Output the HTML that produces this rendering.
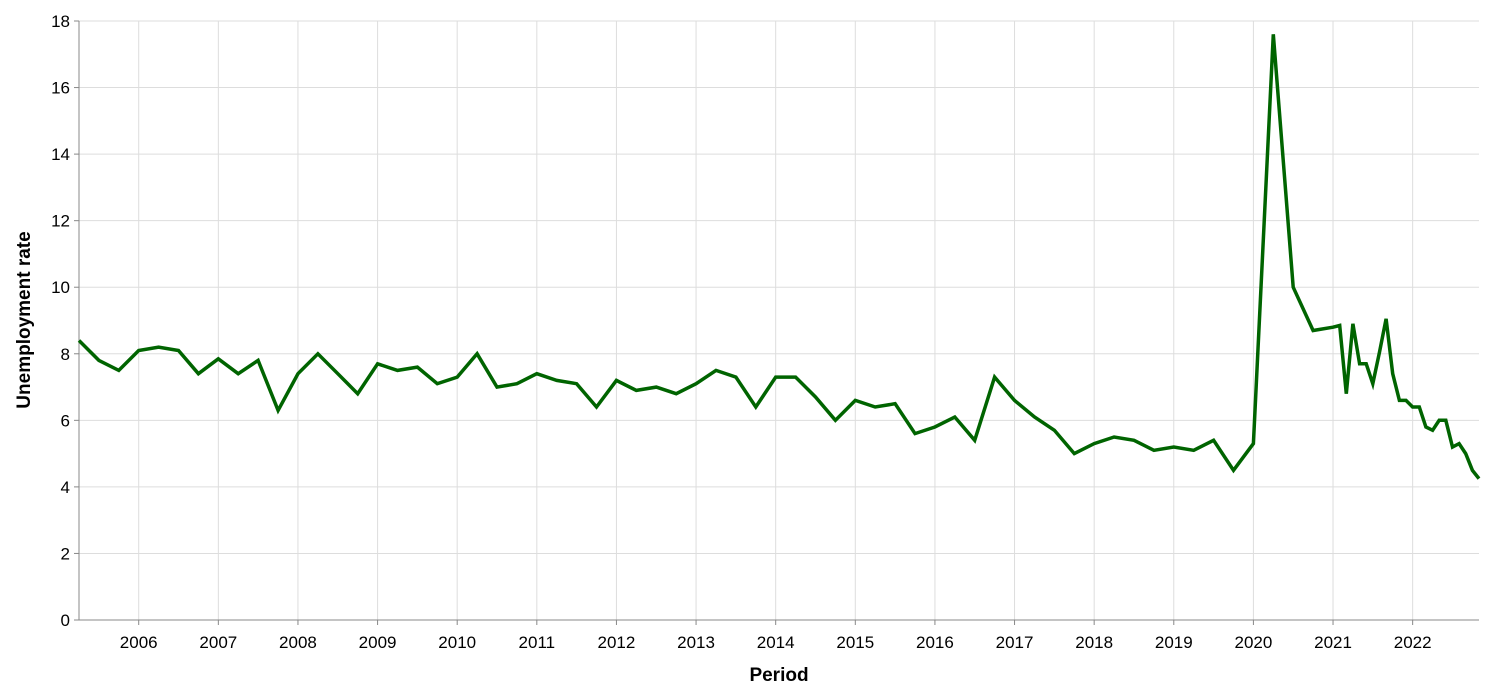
<!DOCTYPE html>
<html><head><meta charset="utf-8"><style>
html,body{margin:0;padding:0;background:#fff;}
svg{display:block;font-family:"Liberation Sans",Arial,sans-serif;}
</style></head><body>
<svg id="chart" width="1492" height="694" xmlns="http://www.w3.org/2000/svg">
<g id="grid"></g>
<g id="axes"></g>
<path id="line" fill="none" stroke="#006400" stroke-width="3.5" stroke-linejoin="miter"></path>
</svg>
<script>
const quarterValues = [8.4,7.8,7.5,8.1,8.2,8.1,7.4,7.85,7.4,7.8,
6.3,7.4,8.0,7.4,6.8,7.7,7.5,7.6,7.1,7.3,
8.0,7.0,7.1,7.4,7.2,7.1,6.4,7.2,6.9,7.0,
6.8,7.1,7.5,7.3,6.4,7.3,7.3,6.7,6.0,6.6,
6.4,6.5,5.6,5.8,6.1,5.4,7.3,6.6,6.1,5.7,
5.0,5.3,5.5,5.4,5.1,5.2,5.1,5.4,4.5,5.3,
17.6,10.0,8.7];
const monthValues = [8.8,8.85,6.8,8.9,7.7,7.7,7.1,8.05,9.05,7.4,6.6,6.6,
6.4,6.4,5.8,5.7,6.0,6.0,5.2,5.3,5.0,4.5,4.25];
const quarterStart = 2005.25;
const monthStart = 2021.0;
const yTicks = [0,2,4,6,8,10,12,14,16,18];
const xTicks = [2006,2007,2008,2009,2010,2011,2012,2013,2014,2015,2016,2017,2018,2019,2020,2021,2022];

const X0=79, X1=1479, Y0=620, Y1=21;
const tMin=2005.25, tMax=2005.25+ (2022+10/12-2005.25);
const xs = t => X0 + (t - tMin)/(tMax - tMin)*(X1-X0);
const ys = v => Y0 - v/18*(Y0-Y1);
const NS="http://www.w3.org/2000/svg";
const grid=document.getElementById('grid'), axes=document.getElementById('axes');
function mk(tag, attrs, parent){const e=document.createElementNS(NS,tag);for(const k in attrs)e.setAttribute(k,attrs[k]);parent.appendChild(e);return e;}

yTicks.forEach(v=>{
  const y=ys(v);
  const g=mk('line',{x1:X0,x2:X1,y1:y,y2:y,stroke:'#ddd','stroke-width':1},grid);
  
  
  const tk=mk('line',{x1:X0-5,x2:X0,y1:y,y2:y,stroke:'#888','stroke-width':1},axes);
  
  
  const t=mk('text',{x:X0-9,y:y+6,'text-anchor':'end','font-size':17,fill:'#000'},axes);
  t.textContent=v;
  
  
});
xTicks.forEach(yr=>{
  const x=xs(yr);
  const g=mk('line',{x1:x,x2:x,y1:Y1,y2:Y0,stroke:'#ddd','stroke-width':1},grid);
  
  
  const tk=mk('line',{x1:x,x2:x,y1:Y0,y2:Y0+5,stroke:'#888','stroke-width':1},axes);
  
  
  const t=mk('text',{x:x,y:Y0+28,'text-anchor':'middle','font-size':17,fill:'#000'},axes);
  t.textContent=yr;
  
  
});
const ax1=mk('line',{x1:X0,x2:X0,y1:Y1,y2:Y0,stroke:'#888','stroke-width':1},axes);


const ax2=mk('line',{x1:X0,x2:X1,y1:Y0,y2:Y0,stroke:'#888','stroke-width':1},axes);


const xt=mk('text',{x:779,y:681,'text-anchor':'middle','font-size':19,'font-weight':'bold'},axes);
xt.textContent='Period';


const yt=mk('text',{x:0,y:0,'text-anchor':'middle','font-size':19,'font-weight':'bold',transform:'translate(30,320) rotate(-90)'},axes);
yt.textContent='Unemployment rate';



const pts=[];
quarterValues.forEach((v,i)=>pts.push([xs(quarterStart+i*0.25),ys(v)]));
monthValues.forEach((v,i)=>pts.push([xs(monthStart+i/12),ys(v)]));
document.getElementById('line').setAttribute('d',pts.map((p,i)=>(i?'L':'M')+p[0].toFixed(1)+','+p[1].toFixed(1)).join(''));
</script>
</body></html>
